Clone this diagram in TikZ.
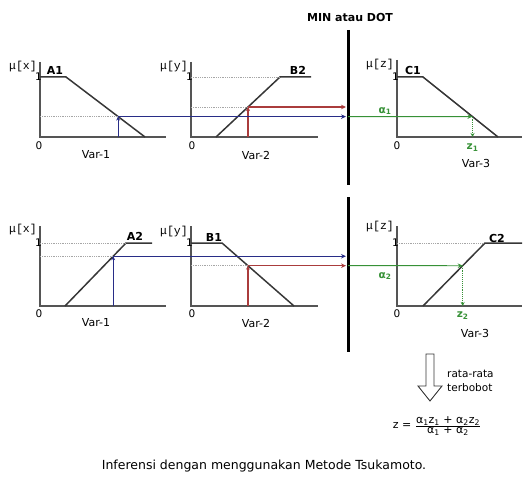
\documentclass[tikz,border=0pt]{standalone}
\usepackage{fontspec}
\setmainfont{DejaVu Sans}
\newfontfamily\mufont{Liberation Mono}
\usetikzlibrary{arrows.meta,calc}
\definecolor{inblue}{RGB}{40,45,135}
\definecolor{inred}{RGB}{170,60,60}
\definecolor{outgreen}{RGB}{55,145,55}
\definecolor{mfgray}{RGB}{55,55,55}
\tikzset{axis/.style={draw=mfgray!85,line width=1.5pt},
 mf/.style={draw=mfgray,line width=1.5pt},
 guide/.style={gray!70,densely dotted,line width=0.8pt},
 inarrow/.style={-{Stealth[length=4pt,width=4pt]},line width=1.2pt},
 inline/.style={-{Stealth[length=5pt,width=4.5pt]},line width=1.1pt,shorten >=2pt},
 outline/.style={outgreen,-{Stealth[length=5pt,width=4.5pt]},line width=0.9pt},
 outdrop/.style={outgreen,densely dotted,-{Stealth[length=4pt,width=4pt]},line width=0.9pt},
 bar/.style={line width=3pt},
 mulabel/.style={anchor=east,font=\mufont\fontsize{11.5}{13}\selectfont},
 setname/.style={font=\bfseries\fontsize{11}{13}\selectfont},
 varname/.style={font=\fontsize{11}{13}\selectfont},
 tick/.style={font=\fontsize{10.5}{12}\selectfont},
 every node/.style={inner sep=1pt}}

\begin{document}
\begin{tikzpicture}[x=1pt,y=-1pt]
\useasboundingbox (0,0) rectangle (524,476);

% operator bars
\node[setname] (op) at (350,17) {MIN atau DOT};
\coordinate (bar1t) at (348,30); \coordinate (bar1b) at (348,185);
\coordinate (bar2t) at (348,197); \coordinate (bar2b) at (348,352);
\draw[bar] (bar1t) -- (bar1b);
\draw[bar] (bar2t) -- (bar2b);

% rule 1: A1, B2 -> C1
\begin{scope}[shift={(40,137)}]
\coordinate (o1) at (0,0);
\draw[axis] (0,-75) -- (o1) -- (126,0);
\draw[mf] (0,-60) -- (26,-60) coordinate (A1b) -- (105,0) coordinate (A1c);
\node[mulabel] at (-2,-70) {μ[x]};
\node[tick,anchor=east] at (3,-60) {1};
\node[tick] at (-1,9) {0};
\node[setname] at (15,-67) {A1};
\node[varname] at (56,18) {Var-1};
\coordinate (x1) at ($(A1b)!0.66!(A1c)$);
\draw[guide] (o1 |- x1) -- (x1);
\draw[inarrow,inblue] (x1 |- o1) -- (x1);
\end{scope}
\begin{scope}[shift={(191,137)}]
\coordinate (o2) at (0,0);
\draw[axis] (0,-75) -- (o2) -- (127,0);
\draw[mf] (25,0) coordinate (B2a) -- (89,-60) coordinate (B2b) -- (120,-60);
\node[mulabel] at (-2,-70) {μ[y]};
\node[tick,anchor=east] at (3,-60) {1};
\node[tick] at (1,9) {0};
\node[setname] at (107,-67) {B2};
\node[varname] at (65,18) {Var-2};
\coordinate (y1) at ($(B2a)!0.5!(B2b)$);
\draw[guide] (o2 |- B2b) -- (B2b);
\draw[guide] (o2 |- y1) -- (y1);
\draw[inarrow,inred] (y1 |- o2) -- (y1);
\end{scope}
\coordinate (m1) at (x1 -| bar1t);
\coordinate (n1) at (y1 -| bar1t);
\draw[inline,inblue] (x1) -- (m1);
\draw[inline,inred] (y1) -- (n1);
\begin{scope}[shift={(397,137)}]
\coordinate (o3) at (0,0);
\draw[axis] (0,-77) -- (o3) -- (125,0);
\draw[mf] (0,-60) -- (26,-60) coordinate (C1b) -- (101,0) coordinate (C1c);
\node[mulabel] at (-2,-72) {μ[z]};
\node[tick,anchor=east] at (3,-60) {1};
\node[tick] at (0,9) {0};
\node[setname] at (16,-67) {C1};
\node[varname] at (79,26) {Var-3};
\node[outgreen,font=\bfseries\fontsize{10.5}{12}\selectfont] (alpha1) at (-12,-26) {α\textsubscript{1}};
\end{scope}
\coordinate (z1p) at (intersection of C1b--C1c and x1--m1);
\draw[outline] (m1) -- (z1p);
\draw[outdrop] (z1p) -- (z1p |- o3);
\node[outgreen,font=\bfseries\fontsize{10.5}{12}\selectfont,below=6pt] (z1) at (z1p |- o3) {z\textsubscript{1}};

% rule 2: A2, B1 -> C2
\begin{scope}[shift={(40,306)}]
\coordinate (o4) at (0,0);
\draw[axis] (0,-80) -- (o4) -- (126,0);
\draw[mf] (25,0) coordinate (A2a) -- (86,-63) coordinate (A2b) -- (112,-63);
\node[mulabel] at (-2,-76) {μ[x]};
\node[tick,anchor=east] at (3,-63) {1};
\node[tick] at (-1,8) {0};
\node[setname] at (95,-70) {A2};
\node[varname] at (56,17) {Var-1};
\coordinate (x2) at ($(A2a)!0.79!(A2b)$);
\draw[guide] (o4 |- A2b) -- (A2b);
\draw[guide] (o4 |- x2) -- (x2);
\draw[inarrow,inblue] (x2 |- o4) -- (x2);
\end{scope}
\begin{scope}[shift={(191,306)}]
\coordinate (o5) at (0,0);
\draw[axis] (0,-80) -- (o5) -- (127,0);
\draw[mf] (0,-63) -- (31,-63) coordinate (B1b) -- (103,0) coordinate (B1c);
\node[mulabel] at (-2,-74) {μ[y]};
\node[tick,anchor=east] at (3,-63) {1};
\node[tick] at (1,8) {0};
\node[setname] at (23,-69) {B1};
\node[varname] at (65,17) {Var-2};
\coordinate (y2) at ($(B1b)!0.36!(B1c)$);
\draw[guide] (o5 |- y2) -- (y2);
\draw[inarrow,inred] (y2 |- o5) -- (y2);
\end{scope}
\coordinate (m2) at (x2 -| bar2t);
\coordinate (n2) at (y2 -| bar2t);
\draw[inline,inblue] (x2) -- (m2);
\draw[inline,inred] (y2) -- (n2);
\begin{scope}[shift={(397,306)}]
\coordinate (o6) at (0,0);
\draw[axis] (0,-80) -- (o6) -- (125,0);
\draw[mf] (26,0) coordinate (C2a) -- (88,-63) coordinate (C2b) -- (125,-63);
\node[mulabel] at (-2,-79) {μ[z]};
\node[tick,anchor=east] at (3,-63) {1};
\node[tick] at (0,8) {0};
\node[setname] at (100,-68) {C2};
\node[varname] at (78,27) {Var-3};
\node[outgreen,font=\bfseries\fontsize{10.5}{12}\selectfont] (alpha2) at (-12,-30) {α\textsubscript{2}};
\draw[guide] (o6 |- C2b) -- (C2b);
\end{scope}
\coordinate (z2p) at (intersection of C2a--C2b and y2--n2);
\draw[outline] (n2) -- (z2p);
\draw[outdrop] (z2p) -- (z2p |- o6);
\node[outgreen,font=\bfseries\fontsize{10.5}{12}\selectfont,below=5pt] (z2) at (z2p |- o6) {z\textsubscript{2}};

% defuzzification
\draw[mfgray,line width=0.9pt] (426,354) -- (434,354) -- (434,386) -- (442,386)
  -- (430,401) -- (418,386) -- (426,386) -- cycle;
\node[anchor=west,font=\fontsize{10.5}{12}\selectfont] (wavg1) at (446,374) {rata-rata};
\node[anchor=west,font=\fontsize{10.5}{12}\selectfont] (wavg2) at (446,388) {terbobot};
\node[font=\fontsize{11}{13}\selectfont] (zfrac) at (437,426)
  {z = \(\frac{\mbox{α\textsubscript{1}z\textsubscript{1} + α\textsubscript{2}z\textsubscript{2}}}{\mbox{α\textsubscript{1} + α\textsubscript{2}}}\)};
\node[font=\fontsize{12.5}{14}\selectfont] (caption) at (264,466)
  {Inferensi dengan menggunakan Metode Tsukamoto.};
\end{tikzpicture}
\end{document}
